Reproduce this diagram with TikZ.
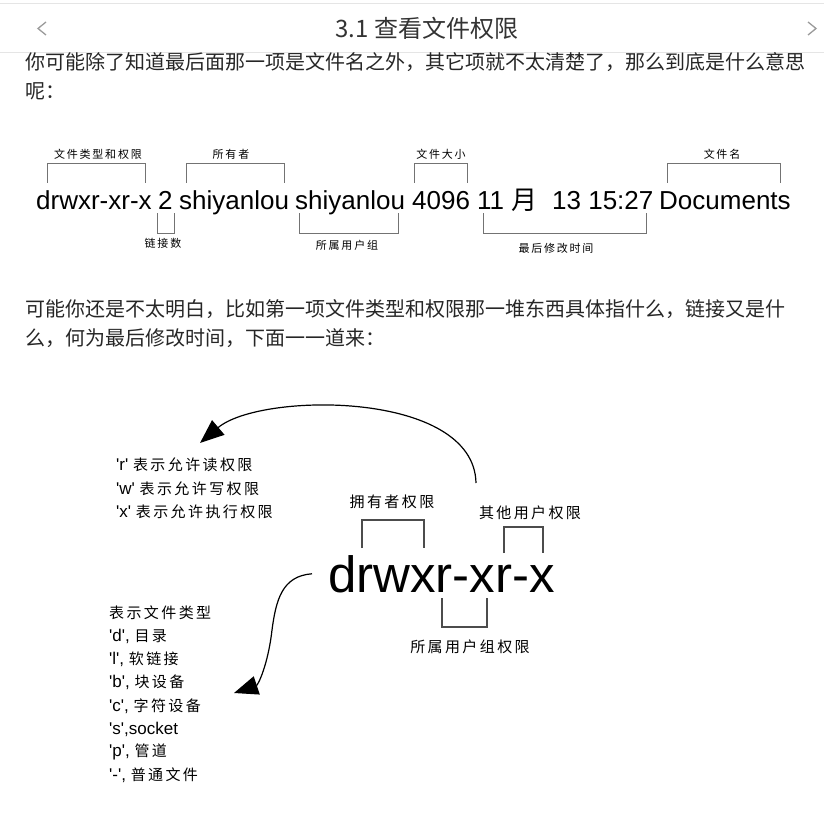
\documentclass[tikz,border=0pt]{standalone}
\usepackage{fontspec}
\setmainfont{Liberation Sans}
\newfontfamily\cjk{Noto Sans CJK SC}
\newfontfamily\cjksp[LetterSpace=16]{Noto Sans CJK SC}
\newfontfamily\lat{Liberation Sans}
\usetikzlibrary{arrows.meta,positioning,calc}
\definecolor{ink}{HTML}{262626}
\definecolor{hdr}{HTML}{333333}
\definecolor{rulegray}{HTML}{E5E5E5}
\definecolor{chevgray}{HTML}{9A9A9A}
\newcommand\zh[1]{{\cjksp\fontsize{15}{18}\selectfont #1}}

\begin{document}
\begin{tikzpicture}[x=1pt,y=-1pt,
  every node/.style={inner sep=0pt},
  para/.style={anchor=west,text=ink,font=\cjk\fontsize{20}{24}\selectfont},
  lsword/.style={anchor=base west,text=black,font=\lat\fontsize{26}{30}\selectfont},
  tag/.style={text=black,font=\cjksp\fontsize{11}{13}\selectfont},
  brk/.style={draw=black!55,line width=1pt},
  brk2/.style={draw=black!70,line width=1.1pt},
  note/.style={anchor=west,text=black,font=\lat\fontsize{17}{20}\selectfont},
  note2/.style={text=black,font=\cjksp\fontsize{15}{18}\selectfont},
  pt/.style={-{Triangle[length=24pt,width=19pt]},line width=1.2pt}]
  \useasboundingbox (0,0) rectangle (824,813);
  % page header
  \draw[rulegray] (0,3.5) -- (824,3.5);
  \draw[rulegray] (0,52) -- (824,52);
  \draw[chevgray,line width=1.3pt] (46,22) -- (38,28.5) -- (46,35);
  \draw[chevgray,line width=1.3pt] (808,22) -- (816,28.5) -- (808,35);
  \node[text=hdr,font=\cjk\fontsize{24}{28}\selectfont] (title) at (427,28) {3.1 查看文件权限};
  \node[para] (p1a) at (25,62) {你可能除了知道最后面那一项是文件名之外，其它项就不太清楚了，那么到底是什么意思};
  \node[para] (p1b) at (25,91) {呢：};
  \node[para] (p2a) at (25,309) {可能你还是不太明白，比如第一项文件类型和权限那一堆东西具体指什么，链接又是什};
  \node[para] (p2b) at (25,338) {么，何为最后修改时间，下面一一道来：};

  % ls -l line
  \foreach \n/\x/\txt in {perm/36/drwxr-xr-x,lnk/158/2,own/179/shiyanlou,grp/295/shiyanlou,size/412/4096,mon/477/{11 {\cjk 月}},clock/552/{13 15:27},fname/659/Documents}
    \node[lsword] (\n) at (\x,209) {\txt};
  \foreach \a/\b/\lx/\txt/\n in {47/145/98/文件类型和权限/tperm,186/284/231/所有者/town,414/467/441/文件大小/tsize,667/780/722/文件名/tname}{
    \draw[brk] (\a,183) |- (\b,164) -- (\b,183);
    \node[tag] (\n) at (\lx,154) {\txt};
  }
  \foreach \a/\b/\lx/\ly/\txt/\n in {157/174/163/243/链接数/blnk,299/398/347/245/所属用户组/bgrp,483/646/556/248/最后修改时间/btime}{
    \draw[brk] (\a,213) |- (\b,233) -- (\b,213);
    \node[tag] (\n) at (\lx,\ly) {\txt};
  }

  % permission string
  \node[anchor=base west,font=\lat\fontsize{51}{56}\selectfont] (mode) at (328,592) {drwxr-xr-x};
  \draw[brk2] (362,548) |- (424,520) -- (424,548);
  \node[note2] (owner) at (392,502) {拥有者权限};
  \draw[brk2] (504,553) |- (543,527) -- (543,553);
  \node[note2] (other) at (530,513) {其他用户权限};
  \draw[brk2] (442,598) |- (487,627) -- (487,598);
  \node[note2] (group) at (470,647) {所属用户组权限};

  \foreach \txt [count=\i] in {{'r' \zh{表示允许读权限}},{'w' \zh{表示允许写权限}},{'x' \zh{表示允许执行权限}}}
    \node[note] (rwx\i) at (116,441.5+23.5*\i) {\txt};
  \foreach \txt [count=\i] in {{\zh{表示文件类型}},{'d', \zh{目录}},{'l', \zh{软链接}},{'b', \zh{块设备}},{'c', \zh{字符设备}},{'s',socket},{'p', \zh{管道}},{'-', \zh{普通文件}}}
    \node[note] (kind\i) at (109,589.8+23.2*\i) {\txt};

  \coordinate (othertail) at (476,483);
  \coordinate (rwxtip) at (200,443);
  \draw[pt] (othertail) .. controls (474,390) and (260,392) .. (rwxtip);
  \coordinate (kindtip) at (234,693);
  \draw[pt] ([xshift=-16pt]mode.west) .. controls (282,576) and (276,600) .. (272,630)
    .. controls (268,665) and (258,685) .. (kindtip);
\end{tikzpicture}
\end{document}
